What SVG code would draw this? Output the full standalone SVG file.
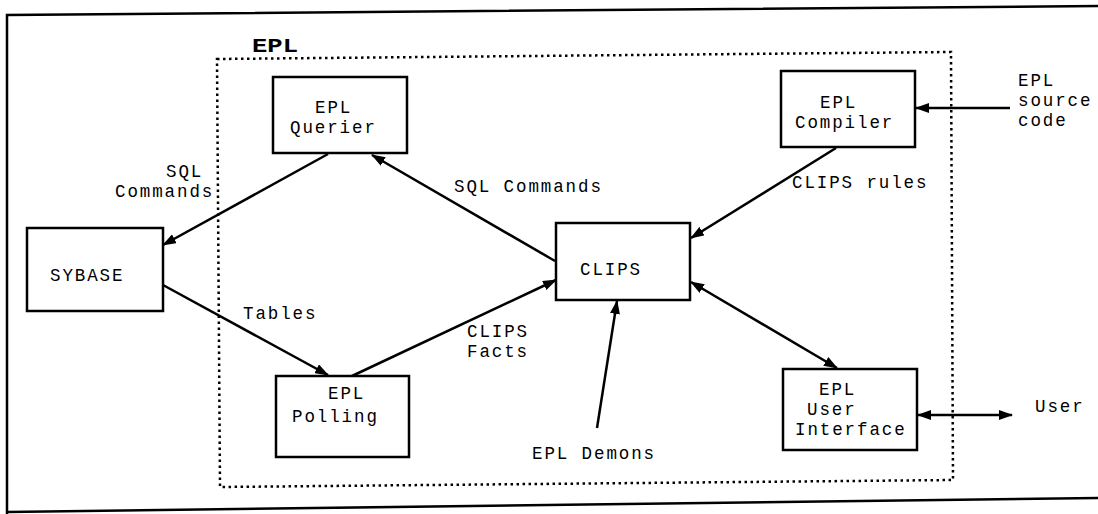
<svg xmlns="http://www.w3.org/2000/svg" width="1098" height="514" viewBox="0 0 1098 514">
<style>
.box{fill:#fff;stroke:#000;stroke-width:2.5}
.t{font-family:"Liberation Mono","Courier New",monospace;font-size:17.5px;letter-spacing:1.9px;fill:#000}
.c{fill:none;stroke:#000;stroke-width:2.5}
</style>
<defs>
<marker id="ah" markerUnits="userSpaceOnUse" markerWidth="14" markerHeight="10" refX="13" refY="5" orient="auto-start-reverse">
<path d="M0,0 L14,5 L0,10 z" fill="#000"/>
</marker>
</defs>
<rect width="1098" height="514" fill="#fff"/>
<g id="frame">
<polyline points="1098,6 7,15 7,514" fill="none" stroke="#000" stroke-width="2.5"/>
<line x1="7" y1="512" x2="1098" y2="498" stroke="#000" stroke-width="2.5"/>
</g>
<g id="epl-boundary">
<polygon points="217,59 951,52 953,480 220,487" fill="none" stroke="#000" stroke-width="2.5" stroke-dasharray="2.5,3.5"/>
<text x="252" y="52" class="t" font-weight="bold" style="font-size:21px;letter-spacing:0" textLength="46" lengthAdjust="spacingAndGlyphs">EPL</text>
</g>
<g id="connectors">
<line class="c" x1="328" y1="154" x2="163" y2="245" marker-end="url(#ah)"/>
<line class="c" x1="555" y1="261" x2="372" y2="155" marker-end="url(#ah)"/>
<line class="c" x1="163" y1="285" x2="328" y2="375" marker-end="url(#ah)"/>
<line class="c" x1="352" y1="376" x2="556" y2="280" marker-end="url(#ah)"/>
<line class="c" x1="836" y1="148" x2="691" y2="238" marker-end="url(#ah)"/>
<line class="c" x1="1010" y1="108" x2="916" y2="108" marker-end="url(#ah)"/>
<line class="c" x1="597" y1="428" x2="617" y2="301" marker-end="url(#ah)"/>
<line class="c" x1="691" y1="282" x2="837" y2="368" marker-start="url(#ah)" marker-end="url(#ah)"/>
<line class="c" x1="918" y1="415" x2="1012" y2="415" marker-start="url(#ah)" marker-end="url(#ah)"/>
<text class="t" x="166" y="177">SQL</text>
<text class="t" x="115" y="197">Commands</text>
<text class="t" x="454" y="192">SQL Commands</text>
<text class="t" x="243" y="319">Tables</text>
<text class="t" x="467" y="337">CLIPS</text>
<text class="t" x="467" y="357">Facts</text>
<text class="t" x="792" y="188">CLIPS rules</text>
<text class="t" x="1018" y="86">EPL</text>
<text class="t" x="1018" y="106">source</text>
<text class="t" x="1018" y="126">code</text>
<text class="t" x="532" y="459">EPL Demons</text>
<text class="t" x="1035" y="412">User</text>
</g>
<g id="querier">
<rect class="box" x="273" y="77" width="134" height="76"/>
<text class="t" x="315" y="113">EPL</text>
<text class="t" x="290" y="133">Querier</text>
</g>
<g id="sybase">
<rect class="box" x="27" y="228" width="136" height="83"/>
<text class="t" x="50" y="281">SYBASE</text>
</g>
<g id="clips">
<rect class="box" x="556" y="223" width="134" height="77"/>
<text class="t" x="580" y="275">CLIPS</text>
</g>
<g id="compiler">
<rect class="box" x="781" y="71" width="134" height="76"/>
<text class="t" x="820" y="108">EPL</text>
<text class="t" x="795" y="128">Compiler</text>
</g>
<g id="polling">
<rect class="box" x="276" y="376" width="133" height="81"/>
<text class="t" x="328" y="399">EPL</text>
<text class="t" x="292" y="422">Polling</text>
</g>
<g id="user-interface">
<rect class="box" x="783" y="369" width="134" height="81"/>
<text class="t" x="819" y="395">EPL</text>
<text class="t" x="807" y="415">User</text>
<text class="t" x="795" y="435">Interface</text>
</g>
</svg>
